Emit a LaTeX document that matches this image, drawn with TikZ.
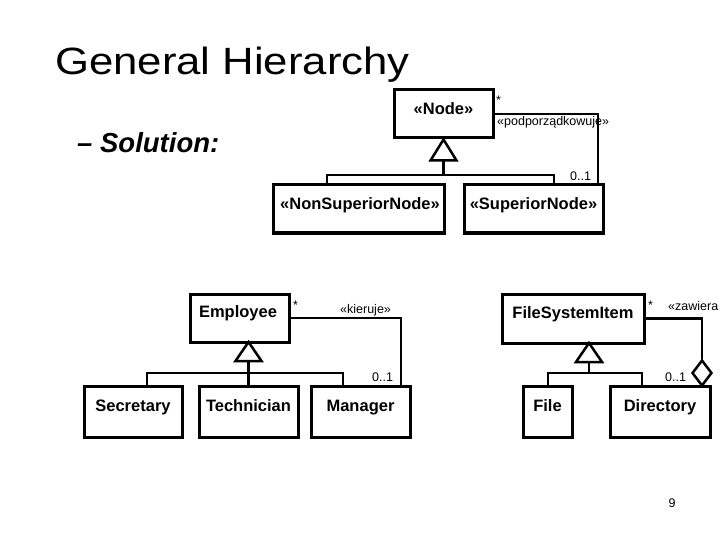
\documentclass[tikz,border=0pt]{standalone}
\usepackage{fontspec}
\setmainfont{Liberation Sans}
\newfontfamily\titlefont[FakeStretch=1.15]{Liberation Sans}
\usetikzlibrary{shapes.geometric}
\tikzset{
  box/.style={draw, line width=3pt, inner sep=0pt, fill=white},
  cname/.style={font=\bfseries\fontsize{16.5}{18}\selectfont, inner sep=0pt, anchor=base},
  small/.style={font=\fontsize{12.5}{14}\selectfont, inner sep=0pt, anchor=base west},
  conn/.style={line width=2.5pt},
  gen/.style={line width=2.5pt, fill=white, line join=miter},
}
\begin{document}
\begin{tikzpicture}[x=1pt,y=-1pt]
\useasboundingbox (0,0) rectangle (720,540);
% title
\node[font=\titlefont\fontsize{38}{40}\selectfont, inner sep=0pt, anchor=base west] (title) at (55,75) {General Hierarchy};
\node[font=\bfseries\itshape\fontsize{27.5}{30}\selectfont, inner sep=0pt, anchor=base west] (sol) at (77,153) {– Solution:};
% boxes
\node[box, minimum width=99pt, minimum height=48pt] (nodeB) at (443.5,114) {};
\node[box, minimum width=171pt, minimum height=48pt] (nonB) at (358.5,209) {};
\node[box, minimum width=139pt, minimum height=48pt] (supB) at (533.5,209) {};
\node[box, minimum width=99pt, minimum height=48pt] (empB) at (239.5,318) {};
\node[box, minimum width=142pt, minimum height=49pt] (fsiB) at (573,318.5) {};
\node[box, minimum width=98pt, minimum height=51pt] (secB) at (133,411.5) {};
\node[box, minimum width=99pt, minimum height=51pt] (techB) at (248.5,411.5) {};
\node[box, minimum width=99pt, minimum height=51pt] (manB) at (360.5,411.5) {};
\node[box, minimum width=49pt, minimum height=51pt] (fileB) at (547.5,411.5) {};
\node[box, minimum width=100pt, minimum height=51pt] (dirB) at (660,411.5) {};
% class names
\node[cname] (nodeT) at (443.5,115) {«Node»};
\node[cname] (nonT) at (360,210) {«NonSuperiorNode»};
\node[cname] (supT) at (533.5,210) {«SuperiorNode»};
\node[cname] (empT) at (238,317) {Employee};
\node[cname] (fsiT) at (573,318) {FileSystemItem};
\node[cname] (secT) at (133,411) {Secretary};
\node[cname] (techT) at (248.5,411) {Technician};
\node[cname] (manT) at (360.5,411) {Manager};
\node[cname] (fileT) at (547.5,411) {File};
\node[cname] (dirT) at (660,411) {Directory};
% generalization: Node
\coordinate (g1) at (443.5,159);
\coordinate (g1l) at (327,175);
\coordinate (g1r) at (554,175);
\draw[conn] (g1) -- (g1 |- g1l);
\draw[conn] (g1l |- nonB.north) -- (g1l) -- (g1r) -- (g1r |- supB.north);
\draw[gen] (nodeB.south) -- ++(13,21) -- ++(-26,0) -- cycle;
% generalization: Employee
\coordinate (g2a) at (248.5,342);
\coordinate (g2) at (248.5,361);
\coordinate (g2l) at (147,373);
\coordinate (g2r) at (343,373);
\draw[conn] (g2) -- (techB.north);
\draw[conn] (g2l |- secB.north) -- (g2l) -- (g2r) -- (g2r |- manB.north);
\draw[gen] (g2a) -- ++(13,19) -- ++(-26,0) -- cycle;
% generalization: FileSystemItem
\coordinate (g3a) at (589,343);
\coordinate (g3) at (589,362);
\coordinate (g3l) at (548,373);
\coordinate (g3r) at (642,373);
\draw[conn] (g3) -- (g3 |- g3l);
\draw[conn] (g3l |- fileB.north) -- (g3l) -- (g3r) -- (g3r |- dirB.north);
\draw[gen] (g3a) -- ++(13,19) -- ++(-26,0) -- cycle;
% association Node - SuperiorNode
\coordinate (a1) at (598,114);
\draw[conn] (nodeB.east) -- (a1) -- (a1 |- supB.north);
\node[small] (a1s) at (496,105) {*};
\node[small] (a1n) at (497,126) {«podporządkowuje»};
\node[small] (a1m) at (570,181) {0..1};
% association Employee - Manager
\coordinate (a2) at (401,318);
\draw[conn] (empB.east) -- (a2) -- (a2 |- manB.north);
\node[small] (a2s) at (293,309) {*};
\node[small] (a2n) at (340,313) {«kieruje»};
\node[small] (a2m) at (372,381) {0..1};
% aggregation FileSystemItem - Directory
\node[diamond, draw, fill=white, line width=2.5pt, inner sep=0pt, minimum width=20pt, minimum height=26pt] (agg) at (702,373) {};
\coordinate (a3) at (702,318.5);
\draw[conn] (fsiB.east) -- (a3) -- (agg.north);
\node[small] (a3s) at (648,309) {*};
\node[small] (a3n) at (668,310) {«zawiera};
\node[small] (a3m) at (665,381) {0..1};
% page number
\node[font=\fontsize{12.5}{14}\selectfont, inner sep=0pt] (pg) at (672,503) {9};
\end{tikzpicture}
\end{document}
